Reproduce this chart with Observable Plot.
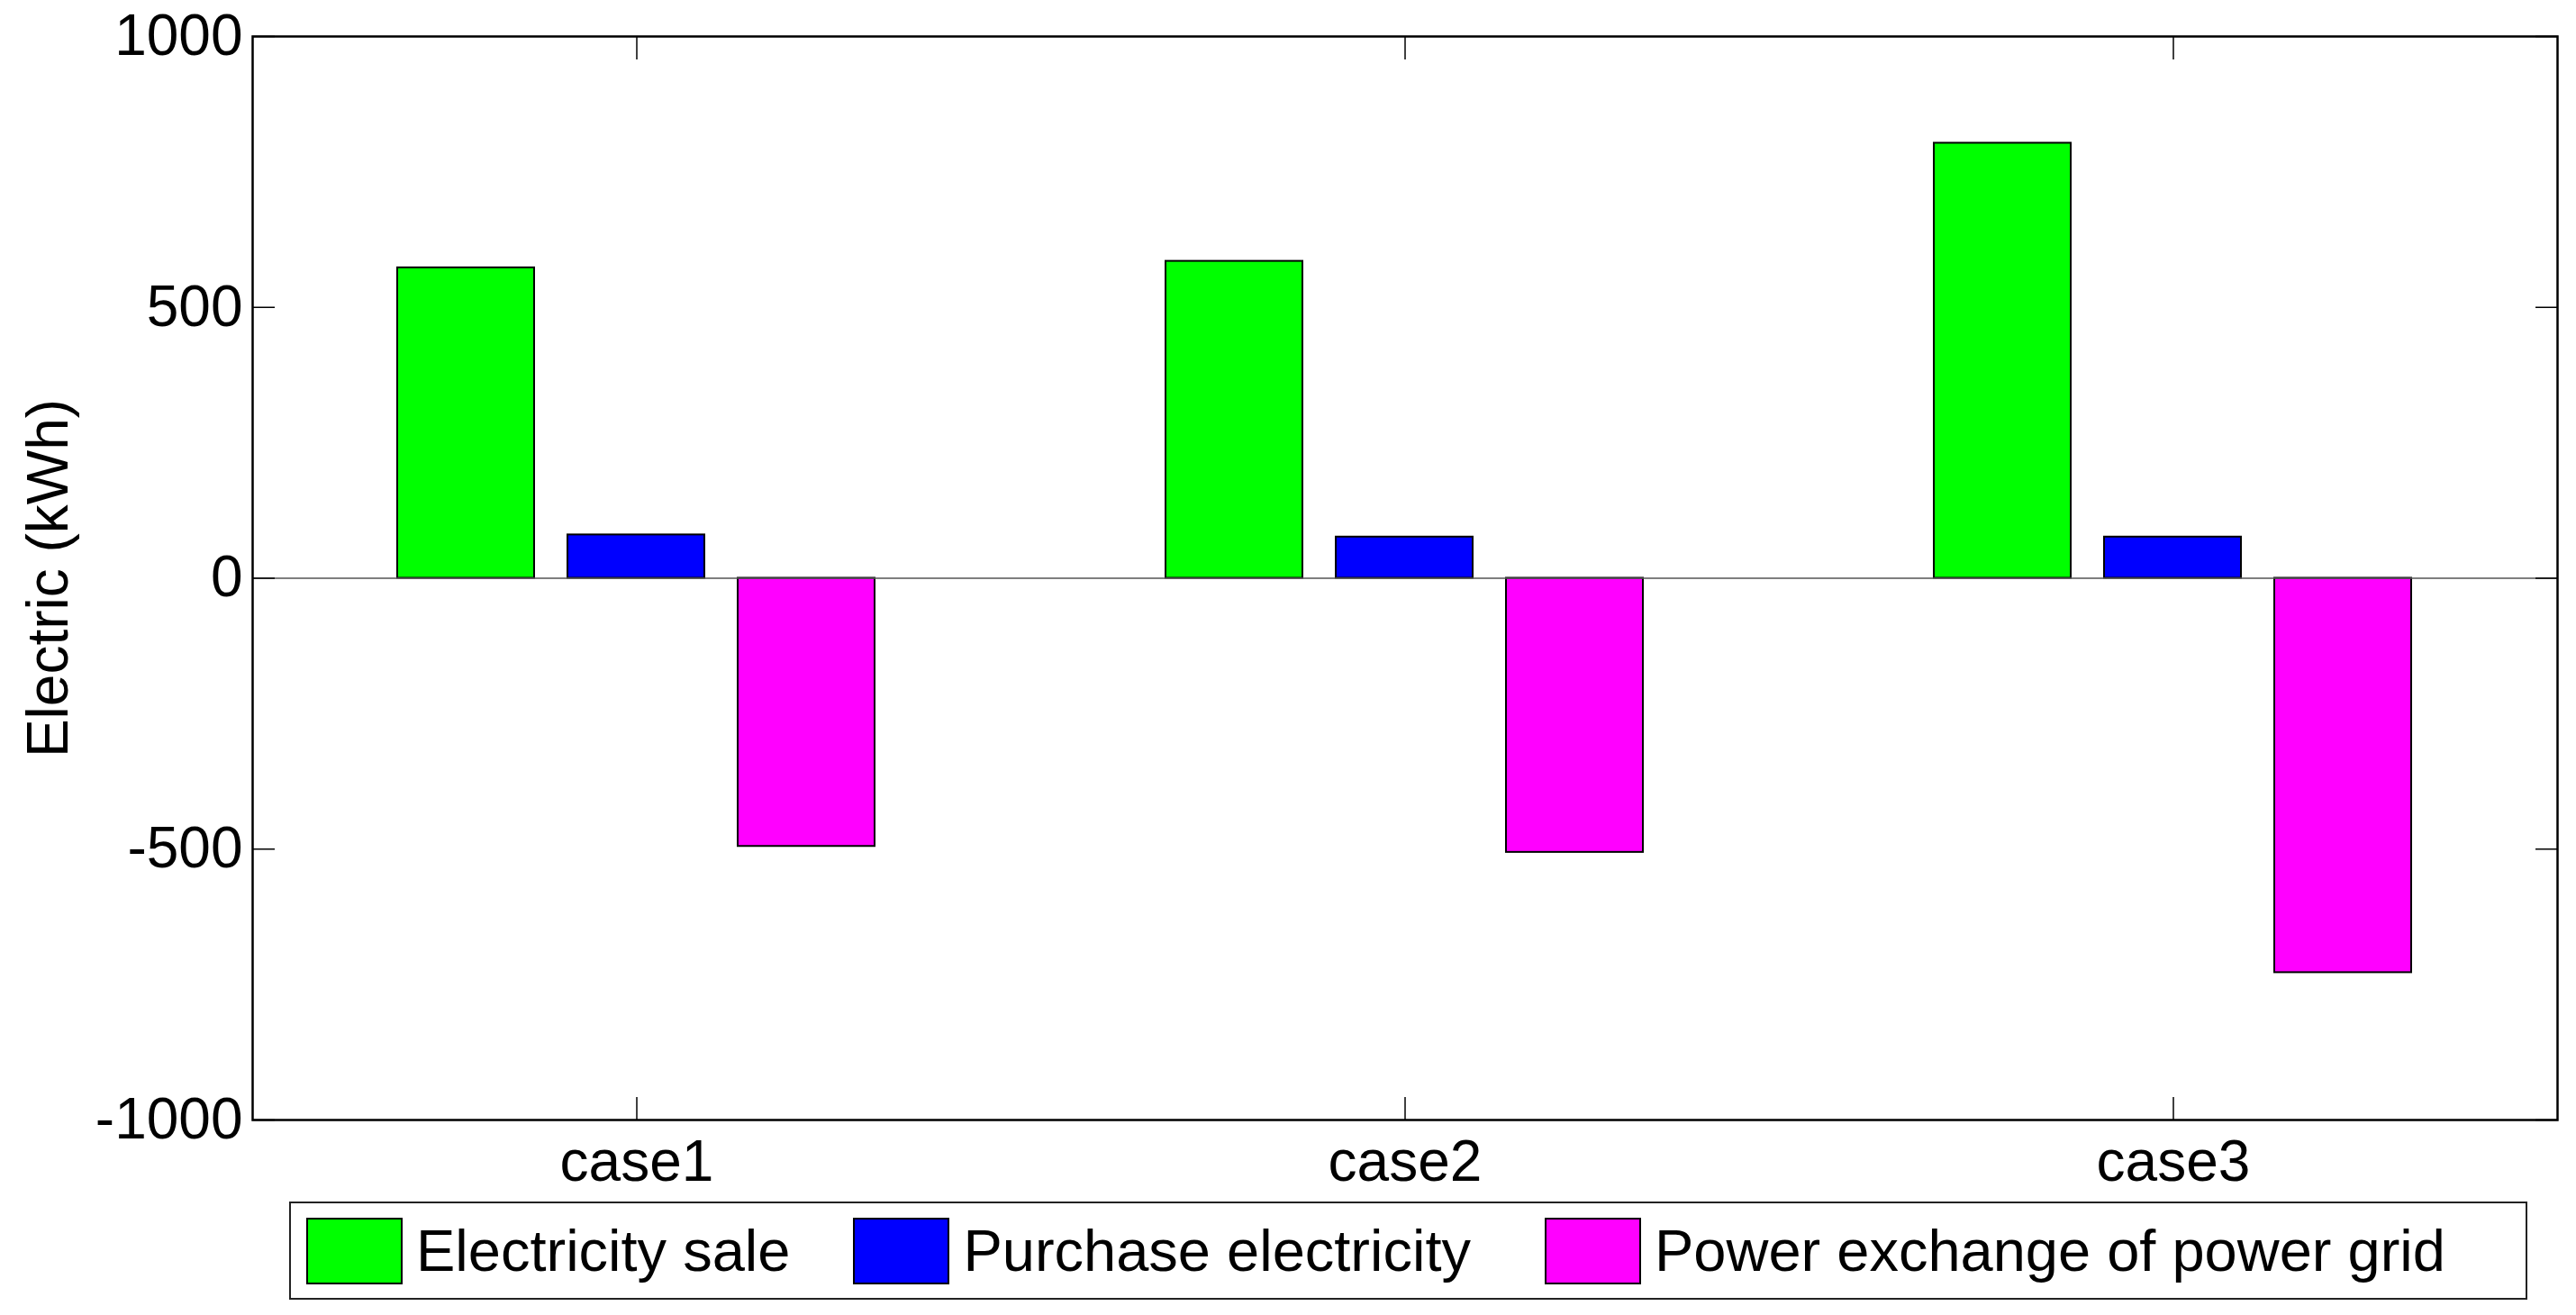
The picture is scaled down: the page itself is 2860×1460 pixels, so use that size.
<!DOCTYPE html>
<html>
<head>
<meta charset="utf-8">
<script src="https://cdn.jsdelivr.net/npm/d3@7"></script>
<script src="https://cdn.jsdelivr.net/npm/@observablehq/plot@0.6"></script>
<style>
  html, body { margin: 0; padding: 0; background: #fff; }
  #wrap { position: relative; width: 2860px; height: 1460px; background: #fff; font-family: "Liberation Sans", Arial, sans-serif; }
  #legend { position: absolute; left: 321px; top: 1334px; width: 2485px; height: 109px; box-sizing: border-box;
            border: 2px solid #222; display: flex; align-items: center; padding-left: 17px; gap: 70px; background: #fff; }
  .item { display: flex; align-items: center; gap: 15px; }
  .sw { width: 107px; height: 74px; box-sizing: border-box; border: 2px solid #000; }
  .lbl { font-size: 65px; color: #000; white-space: nowrap; line-height: 1; }
  .item.last { margin-left: 12px; }
</style>
</head>
<body>
<div id="wrap"></div>
<script>
// ---- data ----
const cases = ["case1", "case2", "case3"];
const seriesNames = ["Electricity sale", "Purchase electricity", "Power exchange of power grid"];
const electricitySale = [573, 585, 803];
const purchaseElectricity = [80, 76, 76];
const powerExchange = [-495, -506, -728];
const seriesColors = ["#00ff00", "#0000ff", "#ff00ff"];
const yTicks = [-1000, -500, 0, 500, 1000];
const yDomain = [-1000, 1000];
const yLabel = "Electric (kWh)";

// ---- table built from arrays ----
const seriesValues = [electricitySale, purchaseElectricity, powerExchange];
const rows = [];
cases.forEach((c, i) => {
  seriesNames.forEach((s, j) => rows.push({case: c, series: s, value: seriesValues[j][i]}));
});

const chart = Plot.plot({
  width: 2860,
  height: 1325,
  marginLeft: 279,
  marginRight: 20,
  marginTop: 40,
  marginBottom: 82,
  style: {fontFamily: "'Liberation Sans', Arial, sans-serif", fontSize: "64px", background: "white", color: "black"},
  fx: {domain: cases, padding: 0, label: null},
  x: {domain: seriesNames, paddingInner: 0.195, paddingOuter: 0.851, axis: null},
  y: {domain: yDomain, ticks: yTicks, label: null},
  color: {domain: seriesNames, range: seriesColors},
  marks: [
    Plot.barY(rows, {fx: "case", x: "series", y: "value", fill: "series", stroke: "black", strokeWidth: 2}),
    Plot.ruleY([0], {stroke: "#555", strokeWidth: 1.5}),
    // y tick labels
    Plot.axisY(yTicks, {anchor: "left", tickSize: 0, tickPadding: 11, tickFormat: d => String(d),
      label: yLabel, labelAnchor: "center", labelOffset: 251, labelArrow: "none", fontSize: 64}),
    // inward ticks
    Plot.axisY(yTicks, {anchor: "left", tickSize: -25, fill: "none", label: null, strokeWidth: 1.5}),
    Plot.axisY(yTicks, {anchor: "right", tickSize: -25, fill: "none", label: null, strokeWidth: 1.5}),
    Plot.axisFx({anchor: "top", tickSize: -25, fill: "none", label: null, strokeWidth: 1.5}),
    Plot.axisFx({anchor: "bottom", tickSize: -25, fill: "none", label: null, strokeWidth: 1.5}),
    Plot.axisFx({anchor: "bottom", tickSize: 0, tickPadding: 22, label: null, fontSize: 64}),
    Plot.frame({facet: "super", stroke: "black", strokeWidth: 2.5})
  ]
});

const wrap = document.getElementById("wrap");
wrap.appendChild(chart);

// legend (HTML, below the SVG)
const legend = document.createElement("div");
legend.id = "legend";
seriesNames.forEach((s, j) => {
  const item = document.createElement("div");
  item.className = "item" + (j === seriesNames.length - 1 ? " last" : "");
  const sw = document.createElement("div");
  sw.className = "sw";
  sw.style.background = seriesColors[j];
  const lbl = document.createElement("span");
  lbl.className = "lbl";
  lbl.textContent = s;
  item.appendChild(sw);
  item.appendChild(lbl);
  legend.appendChild(item);
});
wrap.appendChild(legend);
</script>
</body>
</html>
